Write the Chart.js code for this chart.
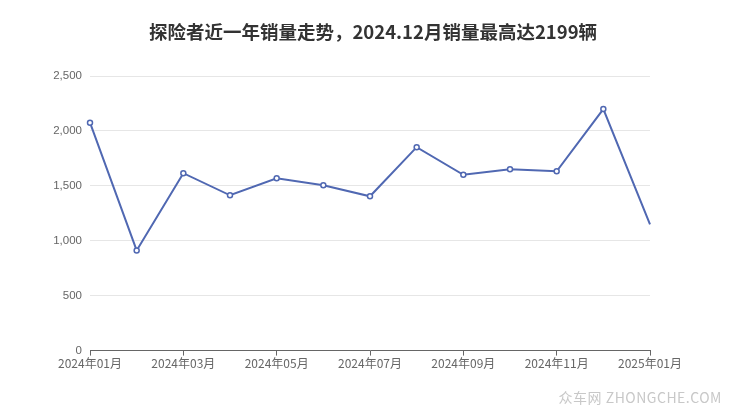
<!DOCTYPE html>
<html><head><meta charset="utf-8">
<script src="https://cdn.jsdelivr.net/npm/chart.js@4/dist/chart.umd.min.js"></script>
<style>
html,body{margin:0;padding:0;background:#fff;}
#wrap{position:relative;width:740px;height:417px;}
#title{position:absolute;left:3px;width:740px;top:19px;text-align:center;font-family:"Noto Sans CJK SC","DejaVu Sans",sans-serif;font-weight:bold;font-size:18.5px;line-height:24px;color:#333;}
#wm{position:absolute;right:18px;top:387px;font-family:"Noto Sans CJK SC","DejaVu Sans",sans-serif;font-size:14px;color:#c8c8c8;letter-spacing:0.5px;}
</style></head>
<body><div id="wrap"><canvas id="c" width="740" height="417"></canvas><div id="title"></div><div id="wm">众车网 ZHONGCHE.COM</div></div>
<script>
const titleText = "探险者近一年销量走势，2024.12月销量最高达2199辆";
const months = ["2024年01月","2024年02月","2024年03月","2024年04月","2024年05月","2024年06月","2024年07月","2024年08月","2024年09月","2024年10月","2024年11月","2024年12月","2025年01月"];
const sales = [2075, 912, 1615, 1414, 1569, 1505, 1405, 1852, 1601, 1651, 1633, 2199, 1150];
const yTicksMax = 2500;
const yStep = 500;

document.getElementById("title").textContent = titleText;
const blue = "#5068b2";
new Chart(document.getElementById("c"), {
  type: "line",
  data: {
    labels: months,
    datasets: [{
      data: sales,
      borderColor: blue,
      borderWidth: 2,
      backgroundColor: "#fff",
      pointBackgroundColor: "#fff",
      pointBorderColor: blue,
      pointBorderWidth: 1.5,
      pointRadius: sales.map((v,i)=> i===sales.length-1 ? 0 : 2.5),
      tension: 0,
      fill: false
    }]
  },
  options: {
    responsive: false,
    animation: false,
    layout: { padding: { left: 10, right: 90, top: 76, bottom: 45 } },
    plugins: {
      legend: { display: false },
      tooltip: { enabled: false },
      title: { display: false }
    },
    scales: {
      x: {
        offset: false,
        grid: {
          drawOnChartArea: false,
          drawTicks: true,
          tickLength: 5,
          tickColor: (ctx) => (ctx.index % 2 === 0 ? "#666" : "rgba(0,0,0,0)"),
          color: "#666"
        },
        border: { color: "#666", width: 1 },
        ticks: {
          autoSkip: false,
          maxRotation: 0,
          color: "#666",
          padding: 1,
          font: { family: "'Noto Sans CJK SC', sans-serif", size: 12 },
          callback: function(v, i) { return i % 2 === 0 ? months[i] : ""; }
        }
      },
      y: {
        min: 0,
        max: yTicksMax,
        ticks: { stepSize: yStep, color: "#666", padding: 8, font: { family: "'Liberation Sans', sans-serif", size: 11.5 } },
        grid: { color: "#e6e6e6", drawTicks: false },
        border: { display: false },
        afterFit: (s) => { s.width = 80; }
      }
    }
  }
});
</script></body></html>
